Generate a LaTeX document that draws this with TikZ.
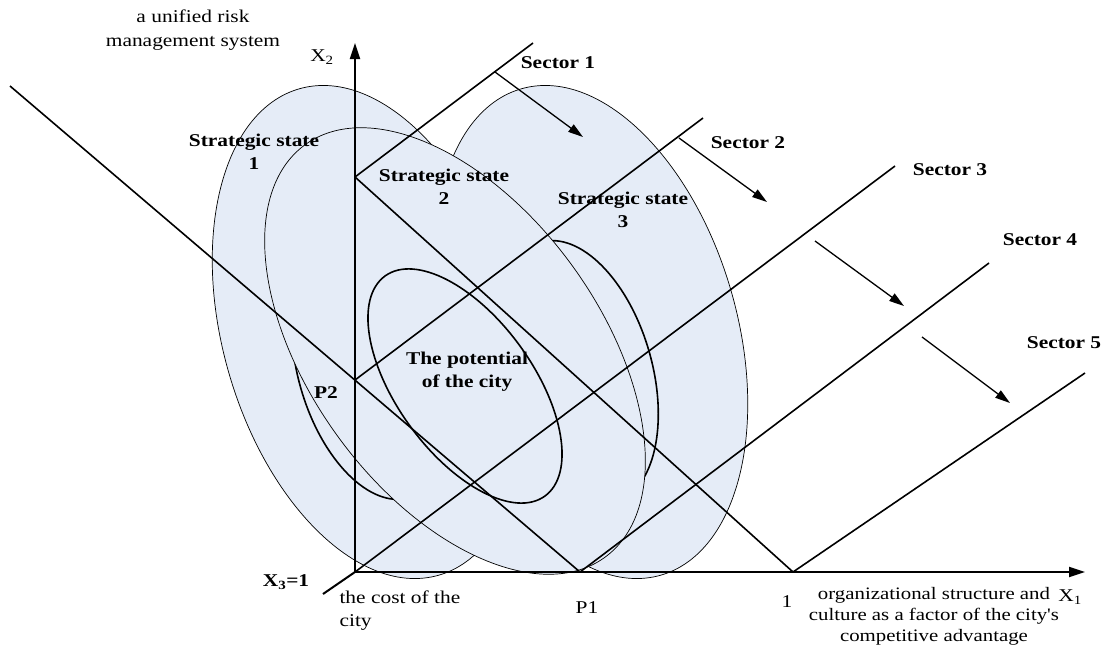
\documentclass[tikz,border=0pt]{standalone}
\usepackage{fontspec}
\setmainfont{Liberation Serif}[FakeStretch=1.19]
\newfontfamily\plainquote{Liberation Serif}[FakeStretch=1.19]
\usetikzlibrary{arrows.meta}
\definecolor{diagink}{HTML}{000000}
\definecolor{statefill}{HTML}{E5ECF7}
\newcommand{\outerstate}{ellipse (253 and 146)}
\newcommand{\middlestate}{ellipse (255 and 145)}
\newcommand{\potentialoval}{ellipse (136 and 68)}
\newcommand{\sideoval}{ellipse (135 and 74)}

\begin{document}
\begin{tikzpicture}[x=1pt, y=-1pt,
  every node/.style={font=\fontsize{18}{23}\selectfont, text=diagink},
  boldlabel/.style={font=\fontsize{18}{23}\selectfont\bfseries},
  statearea/.style={fill=statefill, draw=diagink, line width=0.7pt},
  thickoval/.style={draw=diagink, line width=1.6pt},
  frameline/.style={draw=diagink, line width=1.6pt},
  axisline/.style={draw=diagink, line width=2pt, -{Triangle[length=16pt, width=10pt]}},
  sectorarrow/.style={draw=diagink, line width=1.3pt, -{Triangle[length=15pt, width=9pt]}}]

  \useasboundingbox (0,0) rectangle (1105,648);

  % states from back to front, each one hides the outlines under it
  \path[statearea, rotate around={106:(591,332)}] (591,332) \outerstate;
  \path[thickoval, rotate around={106:(578,372)}] (578,372) \sideoval;
  \path[statearea, rotate around={106:(369,332)}] (369,332) \outerstate;
  \path[thickoval, rotate around={106:(372,368)}] (372,368) \sideoval;
  \path[statearea, rotate around={126:(455,351)}] (455,351) \middlestate;
  \path[thickoval, rotate around={126:(465,386)}] (465,386) \potentialoval;

  \coordinate (O) at (355,572);
  \coordinate (P2pt) at (355,380);
  \coordinate (Q2) at (355,177);
  \coordinate (P1pt) at (580,572);
  \coordinate (U1) at (793,572);
  \coordinate (farleft) at (10,86);
  \coordinate (x1end) at (1085,572);
  \coordinate (x2end) at (355,43);
  \coordinate (x3end) at (323,594);
  \coordinate (s1end) at (533,43);
  \coordinate (s2end) at (703,118);
  \coordinate (s3end) at (895,166);
  \coordinate (s4end) at (989,263);
  \coordinate (s5end) at (1085,373);
  \coordinate (a1from) at (495,72);
  \coordinate (a1to) at (583,137);
  \coordinate (a2from) at (679,138);
  \coordinate (a2to) at (767,202);
  \coordinate (a3from) at (815,241);
  \coordinate (a3to) at (904,306);
  \coordinate (a4from) at (922,337);
  \coordinate (a4to) at (1010,403);

  \draw[frameline] (farleft) -- (P1pt);
  \draw[frameline] (Q2) -- (U1);
  \draw[frameline] (Q2) -- (s1end);
  \draw[frameline] (P2pt) -- (s2end);
  \draw[frameline] (O) -- (s3end);
  \draw[frameline] (P1pt) -- (s4end);
  \draw[frameline] (U1) -- (s5end);

  \draw[axisline] (O) -- (x2end);
  \draw[axisline] (O) -- (x1end);
  \draw[frameline, line width=2pt] (O) -- (x3end);

  \draw[sectorarrow] (a1from) -- (a1to);
  \draw[sectorarrow] (a2from) -- (a2to);
  \draw[sectorarrow] (a3from) -- (a3to);
  \draw[sectorarrow] (a4from) -- (a4to);

  \node[align=center, font=\fontsize{18}{24}\selectfont] (riskmgmt) at (193,30) {a unified risk\\management system};
  \node (x2lab) at (322,57) {X\textsubscript{2}};
  \node (x1lab) at (1070,597) {X\textsubscript{1}};
  \node[boldlabel] (x3lab) at (286,582) {X\textsubscript{3}=1};
  \node[boldlabel, align=center] (ss1) at (254,152) {Strategic state\\1};
  \node[boldlabel, align=center] (ss2) at (444,187) {Strategic state\\2};
  \node[boldlabel, align=center] (ss3) at (623,210) {Strategic state\\3};
  \node[boldlabel, align=center] (potential) at (467,372) {The potential\\of the city};
  \node[boldlabel] (p2lab) at (326,393) {P2};
  \node (p1lab) at (587,608) {P1};
  \node (onelab) at (787,602) {1};
  \node[align=left, anchor=west] (costlab) at (336,611) {the cost of the\\city};
  \node[align=center, font=\fontsize{17.5}{21}\selectfont] (orglab) at (934,616) {organizational structure and\\culture as a factor of the city{\plainquote '}s\\competitive advantage};
  \node[boldlabel] (sec1) at (558,63) {Sector 1};
  \node[boldlabel] (sec2) at (748,143) {Sector 2};
  \node[boldlabel] (sec3) at (950,170) {Sector 3};
  \node[boldlabel] (sec4) at (1040,240) {Sector 4};
  \node[boldlabel] (sec5) at (1064,343) {Sector 5};

\end{tikzpicture}
\end{document}
